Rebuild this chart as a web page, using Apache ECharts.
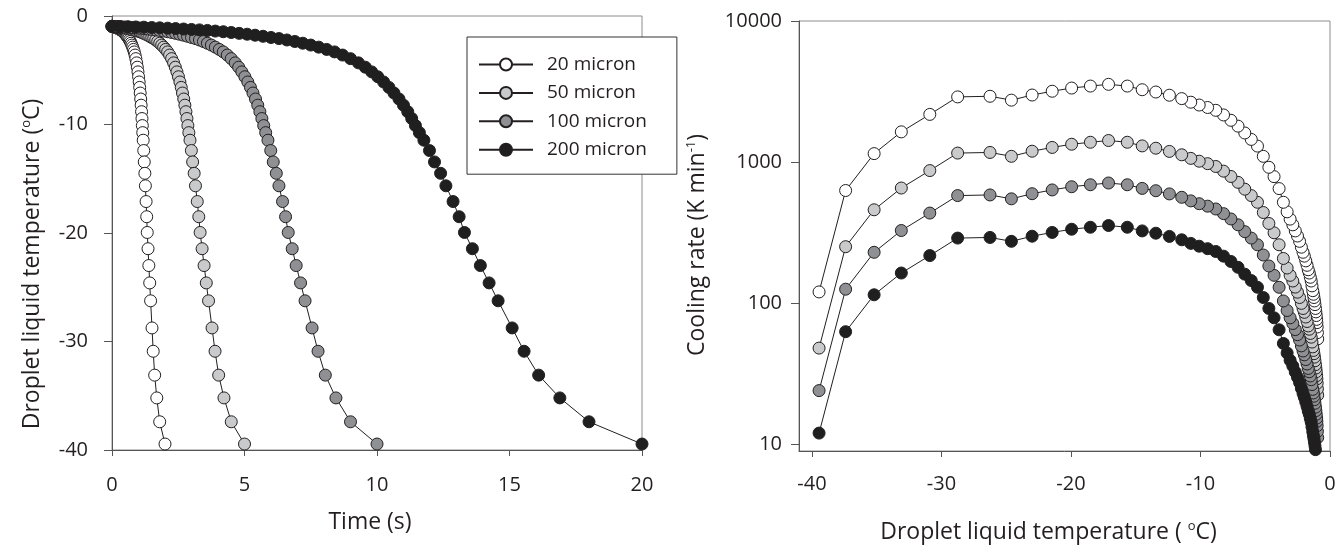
<!DOCTYPE html>
<html><head><meta charset="utf-8">
<script src="https://cdn.jsdelivr.net/npm/echarts@6/dist/echarts.min.js"></script>
<style>html,body{margin:0;padding:0;background:#fff}#c{width:1344px;height:550px}</style>
</head><body><div id="c"></div>
<script>
const seriesNames = ['20 micron', '50 micron', '100 micron', '200 micron'];

// droplet liquid temperature (deg C) at each sample
const temps = [-0.95, -0.97, -0.99, -1.01, -1.03, -1.06, -1.09, -1.12, -1.16, -1.2,
  -1.24, -1.28, -1.33, -1.39, -1.45, -1.52, -1.6, -1.68, -1.77, -1.87,
  -1.98, -2.08, -2.21, -2.35, -2.51, -2.68, -2.87, -3.08, -3.31, -3.6,
  -3.93, -4.32, -4.72, -5.15, -5.6, -6.08, -6.58, -7.1, -7.65, -8.22,
  -8.82, -9.45, -10.1, -10.75, -11.45, -12.4, -13.45, -14.5, -15.65, -17.1,
  -18.5, -19.95, -21.45, -23, -24.6, -26.25, -28.75, -30.9, -33.1, -35.2,
  -37.4, -39.45];

// time (s) at each sample
const time20 = [0, 0.03, 0.06, 0.09, 0.12, 0.15, 0.18, 0.21, 0.24, 0.27,
  0.30, 0.33, 0.36, 0.39, 0.42, 0.45, 0.48, 0.51, 0.54, 0.57,
  0.60, 0.63, 0.66, 0.69, 0.72, 0.75, 0.78, 0.81, 0.84, 0.87,
  0.90, 0.93, 0.956, 0.98, 1.003, 1.025, 1.045, 1.064, 1.083, 1.10,
  1.116, 1.131, 1.145, 1.16, 1.177, 1.198, 1.217, 1.24, 1.26, 1.287,
  1.31, 1.33, 1.36, 1.39, 1.423, 1.457, 1.51, 1.555, 1.61, 1.69,
  1.80, 2.00];
const time50 = [0, 0.075, 0.15, 0.225, 0.3, 0.375, 0.45, 0.525, 0.6, 0.675,
  0.75, 0.825, 0.9, 0.975, 1.05, 1.125, 1.2, 1.275, 1.35, 1.425,
  1.5, 1.575, 1.65, 1.725, 1.8, 1.875, 1.95, 2.025, 2.1, 2.175,
  2.25, 2.325, 2.39, 2.45, 2.508, 2.563, 2.613, 2.66, 2.708, 2.75,
  2.79, 2.828, 2.863, 2.9, 2.943, 2.995, 3.043, 3.1, 3.15, 3.218,
  3.275, 3.325, 3.4, 3.475, 3.558, 3.643, 3.775, 3.888, 4.025, 4.225,
  4.5, 5.0];
const time100 = [0, 0.15, 0.3, 0.45, 0.6, 0.75, 0.9, 1.05, 1.2, 1.35,
  1.5, 1.65, 1.8, 1.95, 2.1, 2.25, 2.4, 2.55, 2.7, 2.85,
  3.0, 3.15, 3.3, 3.45, 3.6, 3.75, 3.9, 4.05, 4.2, 4.35,
  4.5, 4.65, 4.78, 4.9, 5.015, 5.125, 5.225, 5.32, 5.415, 5.5,
  5.58, 5.655, 5.725, 5.8, 5.885, 5.99, 6.085, 6.2, 6.3, 6.435,
  6.55, 6.65, 6.8, 6.95, 7.115, 7.285, 7.55, 7.775, 8.05, 8.45,
  9.0, 10.0];
const time200 = [0, 0.3, 0.6, 0.9, 1.2, 1.5, 1.8, 2.1, 2.4, 2.7,
  3.0, 3.3, 3.6, 3.9, 4.2, 4.5, 4.8, 5.1, 5.4, 5.7,
  6.0, 6.3, 6.6, 6.9, 7.2, 7.5, 7.8, 8.1, 8.4, 8.7,
  9.0, 9.3, 9.56, 9.8, 10.03, 10.25, 10.45, 10.64, 10.83, 11.0,
  11.16, 11.31, 11.45, 11.6, 11.77, 11.98, 12.17, 12.4, 12.6, 12.87,
  13.1, 13.3, 13.6, 13.9, 14.23, 14.57, 15.1, 15.55, 16.1, 16.9,
  18.0, 20.0];

// cooling rate (K/min) at each sample
const rate20 = [56, 62, 68, 73, 77, 82, 87, 92, 98, 104,
  110, 116, 123, 133, 144, 153, 164, 173, 186, 200,
  216, 230, 250, 275, 300, 326, 360, 395, 445, 520,
  650, 790, 920, 1100, 1300, 1450, 1610, 1800, 1980, 2160,
  2330, 2440, 2540, 2660, 2820, 2980, 3140, 3260, 3460, 3560,
  3460, 3350, 3180, 2990, 2750, 2930, 2900, 2180, 1640, 1150,
  630, 120.5];
const rate50 = [22.4, 24.8, 27.2, 29.2, 30.8, 32.8, 34.8, 36.8, 39.2, 41.6,
  44, 46.4, 49.2, 53.2, 57.6, 61.2, 65.6, 69.2, 74.4, 80,
  86.4, 92, 100, 110, 120, 130.4, 144, 158, 178, 208,
  260, 316, 368, 440, 520, 580, 644, 720, 792, 864,
  932, 976, 1016, 1064, 1128, 1192, 1256, 1304, 1384, 1424,
  1384, 1340, 1272, 1196, 1100, 1172, 1160, 872, 656, 460,
  252, 48.2];
const rate100 = [11.2, 12.4, 13.6, 14.6, 15.4, 16.4, 17.4, 18.4, 19.6, 20.8,
  22, 23.2, 24.6, 26.6, 28.8, 30.6, 32.8, 34.6, 37.2, 40,
  43.2, 46, 50, 55, 60, 65.2, 72, 79, 89, 104,
  130, 158, 184, 220, 260, 290, 322, 360, 396, 432,
  466, 488, 508, 532, 564, 596, 628, 652, 692, 712,
  692, 670, 636, 598, 550, 586, 580, 436, 328, 230,
  126, 24.1];
const rate200 = [5.6, 6.2, 6.8, 7.3, 7.7, 8.2, 8.7, 9.2, 9.8, 10.4,
  11.0, 11.6, 12.3, 13.3, 14.4, 15.3, 16.4, 17.3, 18.6, 20.0,
  21.6, 23.0, 25.0, 27.5, 30.0, 32.6, 36.0, 39.5, 44.5, 52,
  65, 79, 92, 110, 130, 145, 161, 180, 198, 216,
  233, 244, 254, 266, 282, 298, 314, 326, 346, 356,
  346, 335, 318, 299, 275, 293, 290, 218, 164, 115,
  63, 12.05];

const rightXTicks = [-40, -30, -20, -10, 0];
const rightYTicks = [10, 100, 1000, 10000];

const times = [time20, time50, time100, time200];
const rates = [rate20, rate50, rate100, rate200];
const fills = ['#ffffff', '#c9cacb', '#8e9093', '#1f1f1f'];

const FONT = 'Open Sans';
const INK = '#231f20';
const AXIS = '#555555';
const richName = {
  sup: { fontSize: 13, verticalAlign: 'top', lineHeight: 25, fontFamily: FONT, color: INK }
};
function nameStyle(padding) {
  return { color: INK, fontSize: 23, fontFamily: FONT, lineHeight: 25, rich: richName, padding: padding };
}
function axisBase(extra) {
  return Object.assign({
    axisLine: { show: true, onZero: false, lineStyle: { color: AXIS, width: 1 } },
    splitLine: { show: false },
    nameLocation: 'middle'
  }, extra);
}
const labelStyle = { color: INK, fontSize: 20, fontFamily: FONT };
const xTick = { show: true, inside: false, length: 6, lineStyle: { color: AXIS, width: 1 } };
const yTick = { show: true, inside: false, length: 8, lineStyle: { color: AXIS, width: 1 } };

const series = [];
for (let s = 0; s < 4; s++) {
  const common = {
    name: seriesNames[s], type: 'line', symbol: 'circle', symbolSize: 12,
    lineStyle: { color: INK, width: 1 },
    itemStyle: { color: fills[s], borderColor: INK, borderWidth: 1 },
    emphasis: { disabled: true }, animation: false
  };
  series.push(Object.assign({}, common, {
    xAxisIndex: 0, yAxisIndex: 0,
    data: times[s].map((t, k) => [t, temps[k]])
  }));
  series.push(Object.assign({}, common, {
    xAxisIndex: 1, yAxisIndex: 1,
    data: temps.map((T, k) => [T, rates[s][k]])
  }));
}

const chart = echarts.init(document.getElementById('c'), null, { renderer: 'canvas' });
chart.setOption({
  animation: false,
  backgroundColor: '#ffffff',
  grid: [
    { left: 112, top: 16, width: 530, height: 434, show: true, borderColor: '#8c8c8c', borderWidth: 1, backgroundColor: 'transparent' },
    { left: 799, top: 21, width: 531, height: 434, show: true, borderColor: '#8c8c8c', borderWidth: 1, backgroundColor: 'transparent' }
  ],
  legend: {
    data: seriesNames, orient: 'vertical', left: 467, top: 37,
    itemWidth: 54, itemHeight: 15, itemGap: 9.4,
    padding: [18, 30, 15, 11],
    backgroundColor: '#ffffff', borderColor: '#333333', borderWidth: 1, borderRadius: 0,
    textStyle: { fontSize: 19, fontFamily: FONT, color: INK, padding: [0, 0, 0, 9] },
    selectedMode: false
  },
  xAxis: [
    axisBase({ gridIndex: 0, type: 'value', min: 0, max: 20, interval: 5,
      name: 'Time (s)', nameGap: 60, nameTextStyle: nameStyle([0, 14, 0, 0]), axisTick: xTick,
      axisLabel: Object.assign({ margin: 25 }, labelStyle) }),
    axisBase({ gridIndex: 1, type: 'value', min: -41, max: 0,
      name: 'Droplet liquid temperature ( {sup|o}C)', nameGap: 69, nameTextStyle: nameStyle([0, 32, 0, 0]),
      axisTick: Object.assign({ customValues: rightXTicks }, xTick),
      axisLabel: Object.assign({ margin: 23, customValues: rightXTicks }, labelStyle) })
  ],
  yAxis: [
    axisBase({ gridIndex: 0, type: 'value', min: -40, max: 0, interval: 10,
      name: 'Droplet liquid temperature ({sup|o}C)', nameGap: 67, nameTextStyle: nameStyle([0, 62, 0, 0]), axisTick: yTick,
      axisLabel: Object.assign({ margin: 24 }, labelStyle) }),
    axisBase({ gridIndex: 1, type: 'log', logBase: 10, min: 9, max: 10000,
      name: 'Cooling rate (K min{sup|-1})', nameGap: 89, nameTextStyle: nameStyle([0, 18, 0, 0]),
      axisTick: Object.assign({ customValues: rightYTicks }, yTick),
      minorTick: { show: false },
      axisLabel: Object.assign({ margin: 17, customValues: rightYTicks, formatter: v => String(Math.round(v)) }, labelStyle) })
  ],
  series: series
});
</script>
</body></html>
